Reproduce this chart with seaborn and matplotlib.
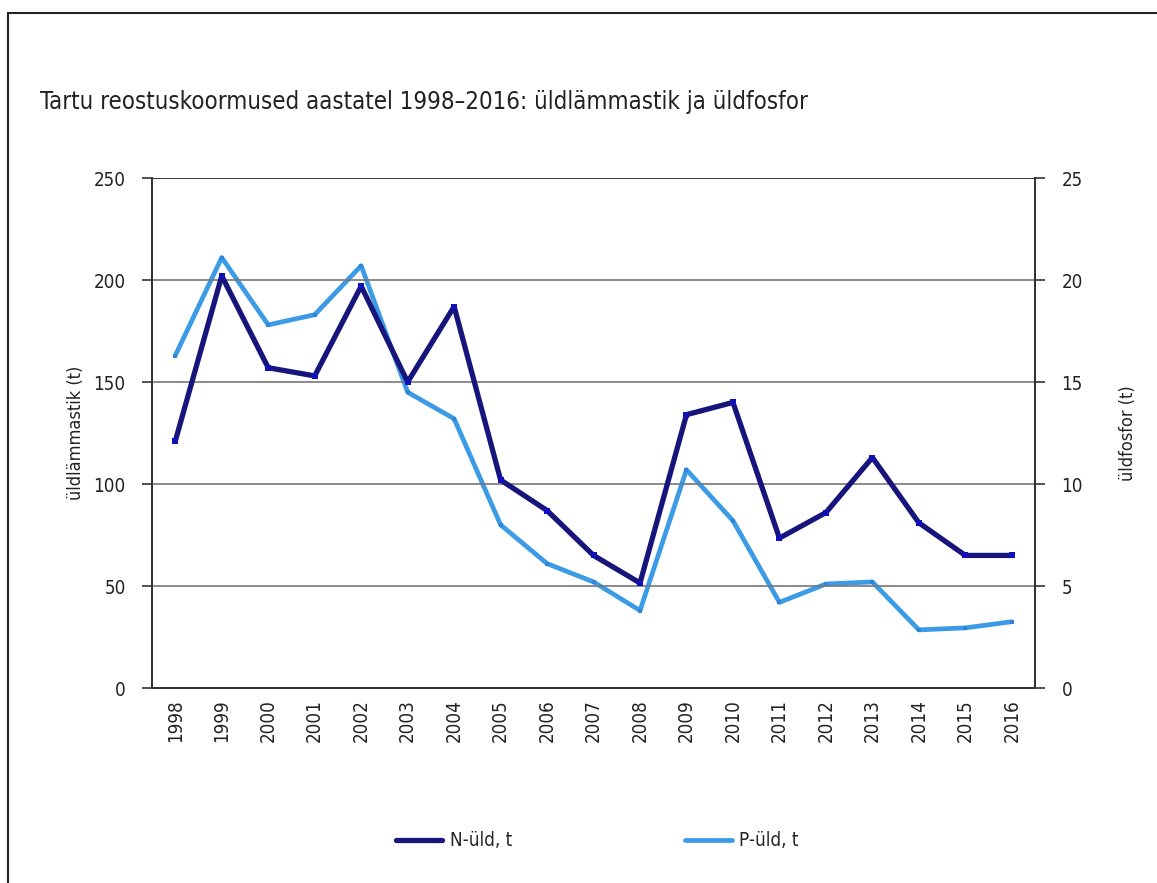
import pandas as pd
import matplotlib
matplotlib.use('Agg')
import matplotlib.pyplot as plt
import seaborn as sns
from matplotlib.lines import Line2D
from matplotlib.patches import Rectangle

# Chart data
years = [str(y) for y in range(1998, 2017)]
n_total = [121, 202, 157, 153, 197, 150, 187, 102, 87, 65, 51.5,
           134, 140, 73.5, 86, 113, 81, 65, 65]
p_total = [16.3, 21.1, 17.8, 18.3, 20.7, 14.5, 13.2, 8.0, 6.1, 5.2, 3.8,
           10.7, 8.2, 4.2, 5.1, 5.2, 2.85, 2.95, 3.25]
left_ticks = [0, 50, 100, 150, 200, 250]
right_ticks = [0, 5, 10, 15, 20, 25]

data = pd.DataFrame({'pos': range(len(years)), 'year': years,
                     'N': n_total, 'P': p_total})

sns.set_style('white')
plt.rcParams['font.family'] = ['DejaVu Sans']
plt.rcParams['font.stretch'] = 'condensed'

dark = '#17157c'
light = '#3b9be6'

fig = plt.figure(figsize=(11.57, 8.83), dpi=100)
ax = fig.add_axes([0.1314, 0.2208, 0.7632, 0.5776])
ax2 = ax.twinx()

# P on the secondary axis (drawn behind N)
sns.lineplot(x='pos', y='P', data=data, ax=ax2, color=light, linewidth=3.4,
             marker='s', markersize=3, markeredgewidth=0, markerfacecolor='#2f86d6')
sns.lineplot(x='pos', y='N', data=data, ax=ax, color=dark, linewidth=3.8,
             marker='s', markersize=5, markeredgewidth=0, markerfacecolor='#1010b8')
ax.set_zorder(ax2.get_zorder() + 1)
ax.patch.set_visible(False)

ax.set_ylim(0, 250)
ax2.set_ylim(0, 25)
ax.set_xlim(-0.5, len(years) - 0.5)
ax.set_yticks(left_ticks)
ax2.set_yticks(right_ticks)
ax.set_xticks(range(len(years)))
ax.set_xticklabels(years, rotation=90)
ax.set_xticks([i - 0.5 for i in range(len(years) + 1)], minor=True)
ax.tick_params(axis='x', which='major', length=0, pad=8, labelsize=13.5, labelcolor='#222222')
ax.tick_params(axis='x', which='minor', length=7, width=1.2, color='#333333', direction='out')
ax.tick_params(axis='y', length=7, width=1.2, color='#333333', direction='out', labelsize=13.5,
               pad=12, labelcolor='#222222')
ax2.tick_params(axis='y', length=7, width=1.2, color='#333333', direction='out', labelsize=13.5,
                pad=12, labelcolor='#222222')

for g in [50, 100, 150, 200]:
    ax.axhline(g, color='#777777', linewidth=1.2, zorder=0)
ax.axhline(250, color='#333333', linewidth=1.4, zorder=0)

for a in (ax, ax2):
    a.spines['top'].set_visible(False)
    for side in ['left', 'right', 'bottom']:
        a.spines[side].set_color('#333333')
        a.spines[side].set_linewidth(1.4)

ax.set_xlabel('')
ax.set_ylabel('üldlämmastik (t)', fontsize=13, labelpad=6, color='#222222')
ax2.set_ylabel('üldfosfor (t)', fontsize=13, labelpad=26, color='#222222')
if ax.get_legend():
    ax.get_legend().remove()

fig.text(0.035, 0.885, 'Tartu reostuskoormused aastatel 1998\u20132016: üldlämmastik ja üldfosfor',
         fontsize=17.2, color='#222222', va='center')

handles = [Line2D([], [], color=dark, linewidth=3.8),
           Line2D([], [], color=light, linewidth=3.4)]
fig.legend(handles, ['N-üld, t', 'P-üld, t'], loc='center', bbox_to_anchor=(0.516, 0.048),
           ncol=2, frameon=False, fontsize=13.5, columnspacing=9.2, handlelength=2.5,
           handletextpad=0.4)

fig.patches.append(Rectangle((0.007, -0.1), 1.2, 0.1 + 0.985, transform=fig.transFigure,
                             fill=False, edgecolor='#222222', linewidth=1.5))

plt.savefig('out.png', dpi=100)
